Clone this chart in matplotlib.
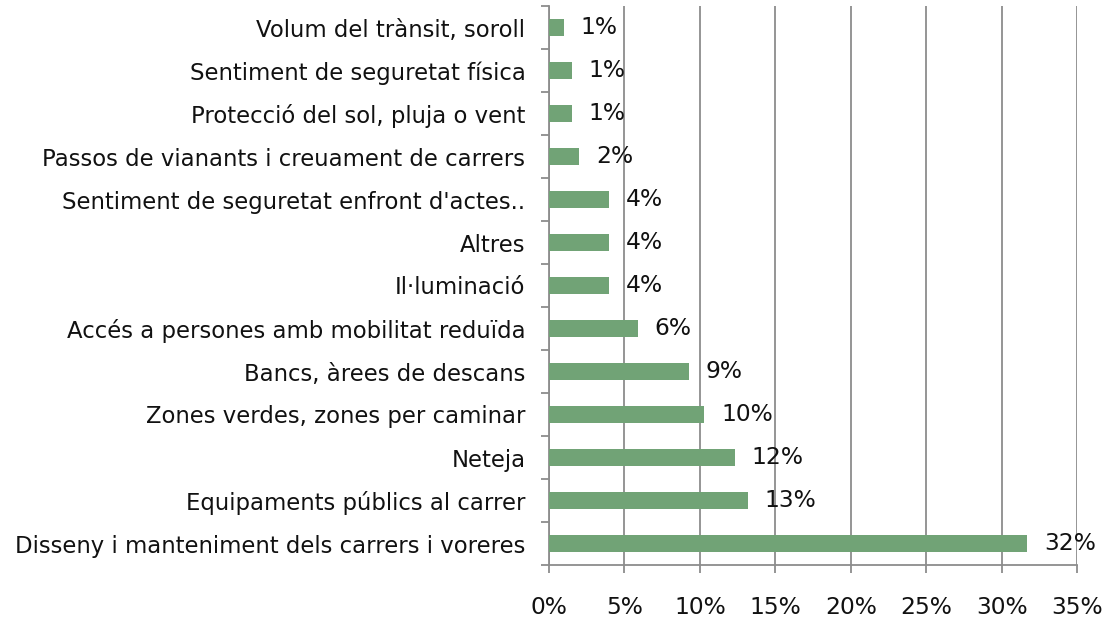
import numpy as np
import matplotlib
matplotlib.use('Agg')
import matplotlib.pyplot as plt
from matplotlib.ticker import MultipleLocator, FuncFormatter

# categories listed bottom to top
categories = [
    'Disseny i manteniment dels carrers i voreres',
    'Equipaments públics al carrer',
    'Neteja',
    'Zones verdes, zones per caminar',
    'Bancs, àrees de descans',
    'Accés a persones amb mobilitat reduïda',
    'Il·luminació',
    'Altres',
    "Sentiment de seguretat enfront d'actes..",
    'Passos de vianants i creuament de carrers',
    'Protecció del sol, pluja o vent',
    'Sentiment de seguretat física',
    'Volum del trànsit, soroll',
]
values = [31.7, 13.2, 12.3, 10.3, 9.3, 5.9, 4.0, 4.0, 4.0, 2.0, 1.5, 1.5, 1.0]
labels = ['32%', '13%', '12%', '10%', '9%', '6%', '4%', '4%', '4%', '2%', '1%', '1%', '1%']

plt.rcParams['font.family'] = ['DejaVu Sans']
grey = '#8c8c8c'
txt = '#111111'
fs = 16.4

fig = plt.figure(figsize=(11.1, 6.21), dpi=100)
ax = fig.add_axes([549 / 1110, 1 - 565 / 621, (1077 - 549) / 1110, (565 - 6) / 621])

y = np.arange(len(categories))
ax.barh(y, values, height=0.4, color='#71a376', zorder=3)

for yi, v, lab in zip(y, values, labels):
    ax.annotate(lab, (v, yi), xytext=(12, 0), textcoords='offset points',
                va='center', ha='left', fontsize=fs + 0.4, color=txt, zorder=4)

ax.set_xlim(0, 35)
ax.set_ylim(-0.5, len(categories) - 0.5)
ax.xaxis.set_major_locator(MultipleLocator(5))
ax.xaxis.set_major_formatter(FuncFormatter(lambda v, p: f'{v:.0f}%'))
ax.grid(axis='x', color=grey, linewidth=1.3, zorder=0)

ax.set_yticks(y)
ax.set_yticklabels(categories)
ax.set_yticks(np.arange(-0.5, len(categories), 1), minor=True)
ax.tick_params(axis='y', which='major', length=0, pad=17, labelsize=fs, labelcolor=txt)
ax.tick_params(axis='y', which='minor', length=6, width=1.3, color=grey)
ax.tick_params(axis='x', which='major', length=6, width=1.3, color=grey, pad=16,
               labelsize=fs + 0.4, labelcolor=txt)

for s in ['top', 'right']:
    ax.spines[s].set_visible(False)
for s in ['left', 'bottom']:
    ax.spines[s].set_color(grey)
    ax.spines[s].set_linewidth(1.3)

fig.savefig('out.png', dpi=100)
